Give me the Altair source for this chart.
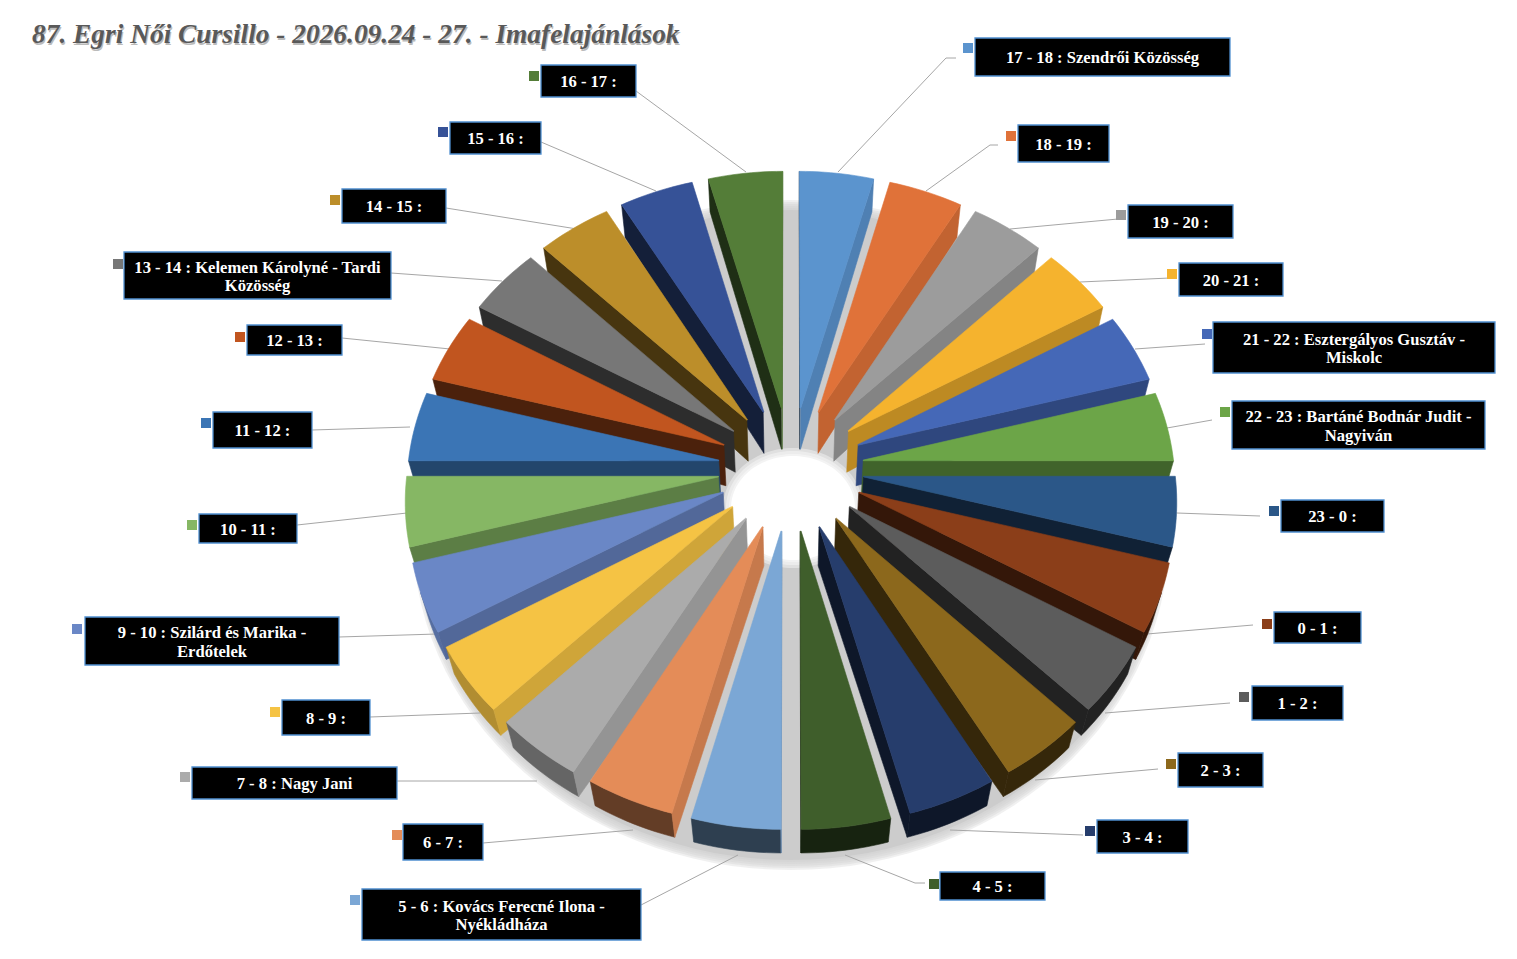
import math
import altair as alt
import pandas as pd

# ---- chart values -------------------------------------------------------
TITLE = "87. Egri Női Cursillo - 2026.09.24 - 27. - Imafelajánlások"
LABELS = ["17 - 18 : Szendrői Közösség", "18 - 19 :", "19 - 20 :", "20 - 21 :",
          "21 - 22 : Esztergályos Gusztáv -\nMiskolc",
          "22 - 23 : Bartáné Bodnár Judit -\nNagyiván", "23 - 0 :", "0 - 1 :", "1 - 2 :",
          "2 - 3 :", "3 - 4 :", "4 - 5 :", "5 - 6 : Kovács Ferecné Ilona -\nNyékládháza",
          "6 - 7 :", "7 - 8 : Nagy Jani", "8 - 9 :", "9 - 10 : Szilárd és Marika -\nErdőtelek",
          "10 - 11 :", "11 - 12 :", "12 - 13 :", "13 - 14 : Kelemen Károlyné - Tardi\nKözösség",
          "14 - 15 :", "15 - 16 :", "16 - 17 :"]
SHARES = [1, 1, 1, 1, 1, 1, 1, 1, 1, 1, 1, 1, 1, 1, 1, 1, 1, 1, 1, 1, 1, 1, 1, 1]
COLORS = ["#5B94CE", "#E07239", "#9C9C9C", "#F5B32E", "#4568B7", "#6CA548", "#2B5788", "#8B3E19",
          "#5C5C5C", "#8C681C", "#263D6C", "#3F5E2B", "#7BA7D5", "#E48C58", "#ABABAB", "#F5C344",
          "#6A87C6", "#86B764", "#3B75B5", "#C1551F", "#777777", "#BC8E2A", "#365297", "#547D38"]

# ---- layout -------------------------------------------------------------
BOXES = [(975, 38, 1230, 76), (1018, 125, 1109, 162), (1128, 205, 1233, 238), (1179, 263, 1283, 296),
         (1213, 322, 1495, 373), (1232, 401, 1485, 449), (1281, 500, 1384, 532), (1274, 612, 1361, 643),
         (1252, 686, 1343, 720), (1178, 753, 1263, 787), (1097, 820, 1188, 853), (940, 872, 1045, 900),
         (362, 889, 641, 940), (403, 824, 483, 860), (192, 767, 397, 799), (282, 700, 370, 735),
         (85, 617, 339, 665), (199, 514, 297, 543), (213, 412, 312, 448), (247, 325, 342, 355),
         (124, 252, 391, 299), (342, 189, 446, 223), (450, 122, 541, 154), (541, 65, 636, 97)]
KEYS = [(968, 48), (1011, 136), (1121, 215), (1172, 274), (1207, 334), (1225, 412), (1274, 511),
        (1267, 624), (1244, 697), (1171, 764), (1090, 831), (934, 884), (355, 900), (397, 835),
        (185, 777), (275, 712), (77, 629), (192, 525), (206, 423), (240, 337), (118, 264),
        (335, 200), (443, 132), (534, 76)]
LEADERS = [[(838, 172), (946, 58), (956, 58)], [(926, 191), (990, 145), (998, 145)],
           [(1010, 229), (1118, 219)], [(1080, 282), (1170, 278)], [(1135, 349), (1205, 344)],
           [(1167, 428), (1212, 420)], [(1177, 513), (1260, 516)], [(1147, 634), (1253, 625)],
           [(1105, 713), (1230, 703)], [(1035, 780), (1158, 769)], [(950, 830), (1083, 835)],
           [(845, 855), (915, 883), (925, 883)], [(738, 855), (641, 905)], [(633, 830), (483, 843)],
           [(537, 781), (397, 781)], [(480, 713), (370, 717)], [(437, 634), (339, 637)],
           [(407, 513), (297, 525)], [(410, 427), (312, 430)], [(450, 349), (342, 338)],
           [(502, 281), (391, 273)], [(577, 229), (446, 208)], [(656, 191), (541, 142)],
           [(746, 172), (636, 91)]]

CX, CY = 791.0, 468.5
D, SIN, COS = 2100.0, 0.53, 0.85
EXPLODE, R_OUT, R_IN = 70.0, 314.0, 3.0
H_OUTER, H_INNER = 57.0, 78.0
W, HT = 1501, 943


def project(x, y, z):
    depth = D + y * SIN - z * COS
    s = D / depth
    return [round(CX + x * s, 2), round(CY - (y * COS + z * SIN) * s, 2)]


def shade(hex_color, k):
    r, g, b = (int(hex_color[i:i + 2], 16) for i in (1, 3, 5))
    return "#%02x%02x%02x" % (int(r * k), int(g * k), int(b * k))


def side_k(nx):
    return min(0.87, 0.6 + 0.35 * nx) if nx >= 0 else max(0.38, 0.52 + 0.5 * nx)


def outer_k(nx):
    return 0.38 + max(0.0, -nx - 0.3) * 0.7


def feature(ring, fill, op=1.0):
    ring = ring + [ring[0]]
    return {"type": "Feature", "geometry": {"type": "Polygon", "coordinates": [ring]},
            "properties": {"fill": fill, "op": op}}


CAM = (0.0, -D * SIN, D * COS)
total = sum(SHARES)
slices = []
start = 0.0
for i, share in enumerate(SHARES):
    a0 = start
    a1 = start + share / total * 2 * math.pi
    start = a1
    slices.append((i, a0, a1))
slices.sort(key=lambda t: -math.cos((t[1] + t[2]) / 2))

faces = []
STEPS = 12
for i, a0, a1 in slices:
    mid = (a0 + a1) / 2
    ax, ay = EXPLODE * math.sin(mid), EXPLODE * math.cos(mid)
    col = COLORS[i]
    angs = [a0 + (a1 - a0) * j / STEPS for j in range(STEPS + 1)]

    def pol(r, t):
        return ax + r * math.sin(t), ay + r * math.cos(t)

    # outer wall: only strips that face the camera
    vis = [t for t in angs
           if (CAM[0] - pol(R_OUT, t)[0]) * math.sin(t) + (CAM[1] - pol(R_OUT, t)[1]) * math.cos(t) > 0]
    if len(vis) >= 2:
        ring = [project(*pol(R_OUT, t), 0) for t in vis] + [project(*pol(R_OUT, t), -H_OUTER) for t in reversed(vis)]
        faces.append(feature(ring, shade(col, outer_k(math.sin(mid)))))
    # radial walls
    for t, sgn in ((a0, -1), (a1, 1)):
        nx, ny = sgn * math.cos(t), -sgn * math.sin(t)
        px, py = pol(R_OUT, t)
        if (CAM[0] - px) * nx + (CAM[1] - py) * ny > 0:
            p0, p1 = pol(R_IN, t), pol(R_OUT, t)
            ring = [project(*p0, 0), project(*p1, 0), project(*p1, -H_OUTER), project(*p0, -H_INNER)]
            faces.append(feature(ring, shade(col, side_k(nx))))
    # top face
    ring = [project(*pol(R_IN, t), 0) for t in (a0, a1)] + [project(*pol(R_OUT, t), 0) for t in reversed(angs)]
    faces.append(feature(ring, col))


def ellipse(cx, cy, rx, ry):
    return [[round(cx + rx * math.cos(k * math.pi / 60), 2), round(cy + ry * math.sin(k * math.pi / 60), 2)]
            for k in range(120)]


shadow = []
for d in (10, 8, 6, 4, 2, 0):
    shadow.append(feature(ellipse(791, 535, 368 + d, 325 + d), "#CCCCCC", 0.3 if d else 1.0))
for d in (8, 5, 2, 0):
    shadow.append(feature(ellipse(793, 508, 62 + d, 52 + d), "#FFFFFF", 0.4 if d else 1.0))

PROJ = dict(type="identity", scale=1, translate=[-8, -8])
xs = alt.Scale(domain=[8, 8 + W], nice=False, zero=False)
ys = alt.Scale(domain=[8 + HT, 8], nice=False, zero=False)
X = lambda f: alt.X(f, scale=xs, axis=None)
Y = lambda f: alt.Y(f, scale=ys, axis=None)

seg_rows = []
for leader in LEADERS:
    for (x1, y1), (x2, y2) in zip(leader, leader[1:]):
        seg_rows.append({"x": x1, "y": y1, "x2": x2, "y2": y2})
box_rows = [{"label": l, "x": b[0], "y": b[1], "x2": b[2], "y2": b[3],
             "tx": (b[0] + b[2]) / 2,
             "ty": (b[1] + b[3]) / 2 + 1 - (9 if "\n" in l else 0)} for l, b in zip(LABELS, BOXES)]
key_rows = [{"x": k[0] - 5, "y": k[1] - 5, "x2": k[0] + 5, "y2": k[1] + 5, "c": c} for k, c in zip(KEYS, COLORS)]

leaders = alt.Chart(pd.DataFrame(seg_rows)).mark_rule(color="#A6A6A6", strokeWidth=1).encode(
    x=X("x:Q"), x2="x2:Q", y=Y("y:Q"), y2="y2:Q")
shadow_l = alt.Chart(alt.Data(values=shadow)).mark_geoshape(strokeWidth=0).encode(
    color=alt.Color("properties.fill:N", scale=None), opacity=alt.Opacity("properties.op:Q", scale=None)
).project(**PROJ)
faces_l = alt.Chart(alt.Data(values=faces)).mark_geoshape(strokeWidth=0.6).encode(
    color=alt.Color("properties.fill:N", scale=None), stroke=alt.Stroke("properties.fill:N", scale=None)
).project(**PROJ)
boxes = alt.Chart(pd.DataFrame(box_rows)).mark_rect(color="#000000", stroke="#4F8FD0", strokeWidth=1.3).encode(
    x=X("x:Q"), x2="x2:Q", y=Y("y:Q"), y2="y2:Q")
texts = alt.Chart(pd.DataFrame(box_rows)).mark_text(
    color="#FFFFFF", font="Liberation Serif", fontWeight="bold", fontSize=16.6, lineHeight=18.5, lineBreak="\n",
    align="center", baseline="middle").encode(x=X("tx:Q"), y=Y("ty:Q"), text="label:N")
keys = alt.Chart(pd.DataFrame(key_rows)).mark_rect().encode(
    x=X("x:Q"), x2="x2:Q", y=Y("y:Q"), y2="y2:Q", color=alt.Color("c:N", scale=None))
tdf = pd.DataFrame([{"t": TITLE, "x": 32, "y": 43}])
title_sh = alt.Chart(tdf).mark_text(color="#BBBBBB", font="Liberation Serif", fontWeight="bold", fontStyle="italic",
                                    fontSize=27.4, align="left", baseline="alphabetic", dx=1, dy=2).encode(
    x=X("x:Q"), y=Y("y:Q"), text="t:N")
title_l = alt.Chart(tdf).mark_text(color="#595959", font="Liberation Serif", fontWeight="bold", fontStyle="italic",
                                   fontSize=27.4, align="left", baseline="alphabetic").encode(
    x=X("x:Q"), y=Y("y:Q"), text="t:N")

chart = alt.layer(shadow_l, leaders, faces_l, boxes, keys, texts, title_sh, title_l).properties(
    width=W, height=HT, padding=0, autosize=alt.AutoSizeParams(type="none"), background="#FFFFFF"
).configure_view(stroke=None)
chart.save("out.html", embed_options={"renderer": "svg", "actions": False})
